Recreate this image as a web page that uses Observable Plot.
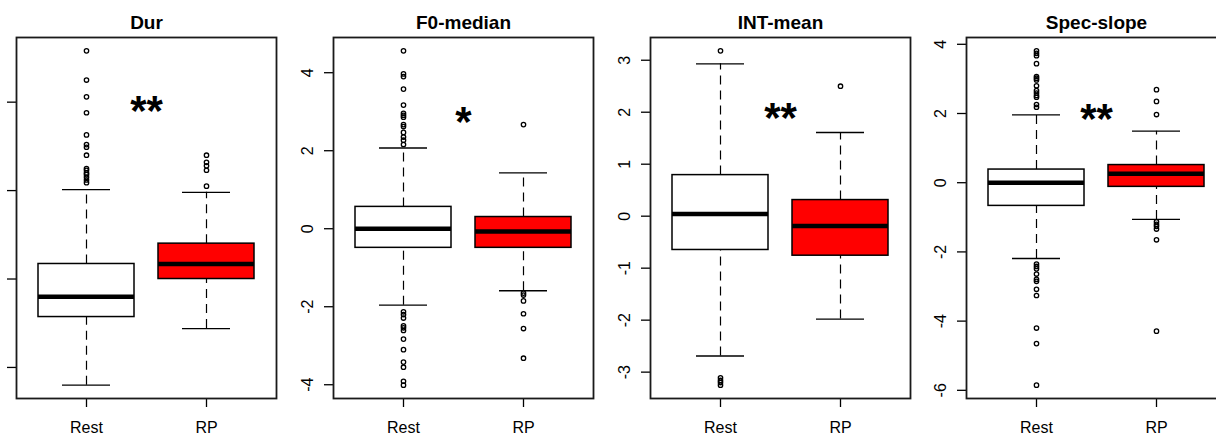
<!DOCTYPE html>
<html>
<head>
<meta charset="utf-8">
<script src="https://cdn.jsdelivr.net/npm/d3@7"></script>
<script src="https://cdn.jsdelivr.net/npm/@observablehq/plot@0.6"></script>
<style>
html, body { margin: 0; padding: 0; background: #fff; }
#chart { position: relative; width: 1216px; height: 435px; overflow: hidden; background: #fff; }
#chart > .panel { position: absolute; top: 0; }
</style>
</head>
<body>
<div id="chart"></div>
<script>
// ---- Data ----
const panelTitles = ["Dur", "F0-median", "INT-mean", "Spec-slope"];
const groups = ["Rest", "RP"];

// box statistics per panel: [Rest, RP]
const lowerWhisker = [[-1.20, -0.56], [-1.96, -1.59], [-2.69, -1.98], [-2.19, -1.06]];
const lowerQuartile = [[-0.43, 0.00], [-0.49, -0.49], [-0.65, -0.76], [-0.67, -0.12]];
const medians      = [[-0.20, 0.17], [0.00, -0.07], [0.04, -0.19], [0.00, 0.26]];
const upperQuartile = [[0.17, 0.40], [0.56, 0.30], [0.79, 0.31], [0.38, 0.51]];
const upperWhisker = [[1.01, 0.98], [2.07, 1.43], [2.93, 1.61], [1.96, 1.49]];

// outliers per panel: [Rest, RP]
const durOutliers = [
  [2.58, 2.25, 2.06, 1.88, 1.63, 1.52, 1.49, 1.40, 1.25, 1.23, 1.20, 1.18, 1.15, 1.12, 1.09],
  [1.40, 1.32, 1.28, 1.23, 1.05]
];
const f0Outliers = [
  [4.56, 3.97, 3.90, 3.58, 3.17, 2.96, 2.91, 2.86, 2.67, 2.62, 2.47, 2.35, 2.27, 2.16,
   -2.13, -2.20, -2.29, -2.49, -2.54, -2.61, -2.83, -3.10, -3.42, -3.55, -3.91, -4.01],
  [2.67, -1.65, -1.70, -1.85, -2.18, -2.56, -3.32]
];
const intOutliers = [
  [3.18, -3.11, -3.16, -3.20, -3.25],
  [2.50]
];
const specOutliers = [
  [3.81, 3.74, 3.67, 3.44, 3.07, 3.02, 2.97, 2.80, 2.66, 2.59, 2.52, 2.47, 2.26, 2.18,
   -2.35, -2.42, -2.49, -2.64, -2.79, -2.85, -3.08, -3.26, -4.20, -4.65, -5.85],
  [2.69, 2.35, 1.97, -1.13, -1.20, -1.26, -1.34, -1.65, -4.29]
];
const outliers = [durOutliers, f0Outliers, intOutliers, specOutliers];

// y-axis tick values per panel (Dur's labels lie outside the picture, so only its ticks show)
const durTicks = [-1, 0, 1, 2];
const f0Ticks = [-4, -2, 0, 2, 4];
const intTicks = [-3, -2, -1, 0, 1, 2, 3];
const specTicks = [-6, -4, -2, 0, 2, 4];
const yTicks = [durTicks, f0Ticks, intTicks, specTicks];
const showTickLabels = [false, true, true, true];

// significance annotations
const starLabels = ["**", "*", "**", "**"];
const starY = [1.95, 2.85, 1.97, 1.96];

// ---- Layout ----
const frameLefts = [16, 333, 650, 966];
const mL = 45, mR = 8, frameW = 260;
const fontFamily = "'Liberation Sans', Arial, Helvetica, sans-serif";

const chart = document.getElementById("chart");

panelTitles.forEach((title, p) => {
  const rows = groups.map((g, j) => ({
    group: g,
    lo: lowerWhisker[p][j],
    q1: lowerQuartile[p][j],
    med: medians[p][j],
    q3: upperQuartile[p][j],
    hi: upperWhisker[p][j]
  }));
  const outRows = groups.flatMap((g, j) => outliers[p][j].map(v => ({group: g, v})));
  const allVals = rows.flatMap(r => [r.lo, r.hi]).concat(outRows.map(d => d.v));
  const [mn, mx] = d3.extent(allVals);
  const pad = (mx - mn) * 0.04;

  const svg = Plot.plot({
    width: mL + frameW + mR,
    height: 435,
    marginLeft: mL,
    marginRight: mR,
    marginTop: 37,
    marginBottom: 37,
    style: {background: "transparent", fontFamily, fontSize: "16px", color: "#000", maxWidth: "none", overflow: "visible"},
    x: {type: "band", domain: groups, paddingInner: 0.2, paddingOuter: 0.18, label: null},
    y: {domain: [mn - pad, mx + pad], label: null},
    color: {domain: groups, range: ["#ffffff", "#ff0000"]},
    marks: [
      Plot.axisY({
        ticks: yTicks[p], tickSize: 9, tickRotate: -90, tickPadding: 12, fontSize: 16, label: null, strokeWidth: 1.3,
        tickFormat: showTickLabels[p] ? (d => String(d)) : (() => "")
      }),
      Plot.axisX({tickSize: 9, tickPadding: 14, fontSize: 16, label: null, strokeWidth: 1.3}),
      Plot.ruleX(rows, {x: "group", y1: "q3", y2: "hi", stroke: "#000", strokeWidth: 1.2, strokeDasharray: "9,6"}),
      Plot.ruleX(rows, {x: "group", y1: "lo", y2: "q1", stroke: "#000", strokeWidth: 1.2, strokeDasharray: "9,6"}),
      Plot.tickY(rows, {x: "group", y: "hi", insetLeft: 24, insetRight: 24, stroke: "#000", strokeWidth: 1.3}),
      Plot.tickY(rows, {x: "group", y: "lo", insetLeft: 24, insetRight: 24, stroke: "#000", strokeWidth: 1.3}),
      Plot.barY(rows, {x: "group", y1: "q1", y2: "q3", fill: "group", stroke: "#000", strokeWidth: 1.5}),
      Plot.tickY(rows, {x: "group", y: "med", stroke: "#000", strokeWidth: 4.5}),
      Plot.dot(outRows, {x: "group", y: "v", r: 2.2, fill: "none", stroke: "#000", strokeWidth: 1.3}),
      Plot.frame({stroke: "#1a1a1a", strokeWidth: 1.8}),
      Plot.text([title], {frameAnchor: "top", lineAnchor: "bottom", dy: -9, fontSize: 19, fontWeight: "bold", fill: "#000"}),
      Plot.text([{label: starLabels[p], y: starY[p]}], {y: "y", text: "label", frameAnchor: "middle", fontSize: 42, fontWeight: "bold", dy: 5, fill: "#000"})
    ]
  });
  const div = document.createElement("div");
  div.className = "panel";
  div.style.left = (frameLefts[p] - mL) + "px";
  div.appendChild(svg);
  chart.appendChild(div);
});
</script>
</body>
</html>
